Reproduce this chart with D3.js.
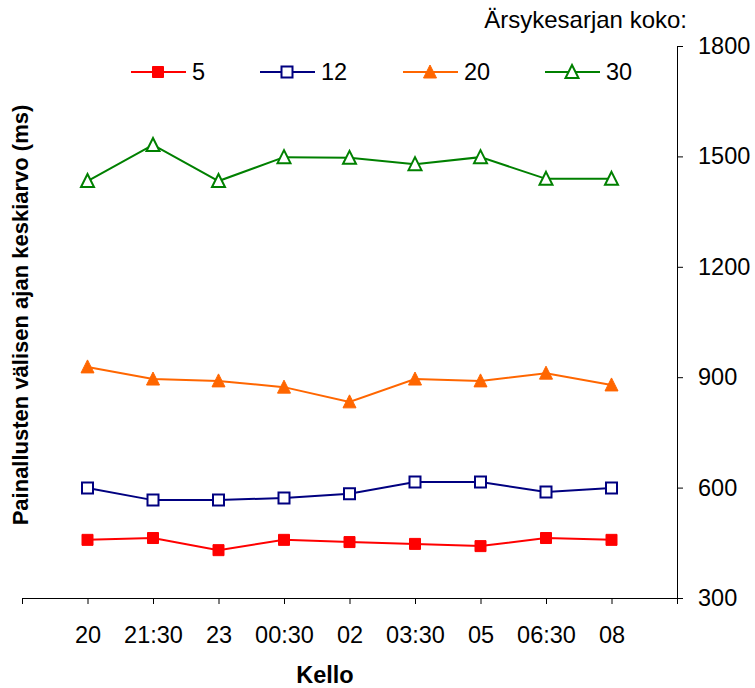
<!DOCTYPE html>
<html>
<head>
<meta charset="utf-8">
<script src="https://cdn.jsdelivr.net/npm/d3@7/dist/d3.min.js"></script>
<style>
  html, body { margin: 0; padding: 0; background: #fff; }
  svg { display: block; font-family: "Liberation Sans", Arial, sans-serif; }
</style>
</head>
<body>
<svg id="chart" width="755" height="688"></svg>
<script>
// Kellonajat (x-akseli)
const categories = ["20", "21:30", "23", "00:30", "02", "03:30", "05", "06:30", "08"];

// Ärsykesarjan koko -> keskiarvo (ms)
const seriesNames = ["5", "12", "20", "30"];
const values5  = [458, 463, 430, 458, 452, 447, 441, 463, 458];
const values12 = [599, 566, 566, 572, 583, 615, 615, 588, 599];
const values20 = [928, 895, 890, 873, 833, 895, 890, 911, 879];
const values30 = [1433, 1531, 1433, 1498, 1496, 1479, 1498, 1439, 1439];

const yTicks = [300, 600, 900, 1200, 1500, 1800];

const series = [
  { name: seriesNames[0], values: values5,  color: "#FF0000", marker: "square",   filled: true },
  { name: seriesNames[1], values: values12, color: "#000080", marker: "square",   filled: false },
  { name: seriesNames[2], values: values20, color: "#FF6600", marker: "triangle", filled: true },
  { name: seriesNames[3], values: values30, color: "#008000", marker: "triangle", filled: false }
];

const svg = d3.select("#chart");
const FONT = 23.5;

const plot = { left: 22, right: 677, top: 46, bottom: 598 };

// One empty slot before and after the categories; points sit on the ticks.
const x = d3.scaleLinear()
  .domain([0, categories.length + 1])
  .range([plot.left, plot.right]);
const y = d3.scaleLinear()
  .domain([300, 1800])
  .range([plot.bottom, plot.top]);

const px = i => x(i + 1);

// X axis
const xAxis = svg.append("g")
  .attr("transform", `translate(0,${plot.bottom})`)
  .call(d3.axisBottom(x)
    .tickValues(d3.range(0, categories.length + 2))
    .tickFormat(i => categories[i - 1] || "")
    .tickSize(6)
    .tickSizeOuter(0)
    .tickPadding(22));
xAxis.selectAll("text").attr("font-size", FONT).attr("fill", "#000")
  .attr("font-family", "Liberation Sans, Arial, sans-serif");
xAxis.selectAll("path, line").attr("stroke", "#000").attr("stroke-width", 1);

// Y axis on the right
const yAxis = svg.append("g")
  .attr("transform", `translate(${plot.right},0)`)
  .call(d3.axisRight(y)
    .tickValues(yTicks)
    .tickFormat(d3.format("d"))
    .tickSize(6)
    .tickSizeOuter(0)
    .tickPadding(15));
yAxis.selectAll("text").attr("font-size", FONT).attr("fill", "#000")
  .attr("font-family", "Liberation Sans, Arial, sans-serif");
yAxis.selectAll("path, line").attr("stroke", "#000").attr("stroke-width", 1);

// Marker drawing
function markerPath(type, cx, cy) {
  if (type === "square") {
    const h = 5.5;
    return `M${cx - h},${cy - h}H${cx + h}V${cy + h}H${cx - h}Z`;
  }
  const w = 6.5, hTop = 7, hBot = 6;
  return `M${cx},${cy - hTop}L${cx + w},${cy + hBot}L${cx - w},${cy + hBot}Z`;
}

function drawMarker(g, s, cx, cy) {
  g.append("path")
    .attr("d", markerPath(s.marker, cx, cy))
    .attr("fill", s.filled ? s.color : "#fff")
    .attr("stroke", s.color)
    .attr("stroke-width", s.filled ? 1 : 2)
    .attr("stroke-linejoin", "miter");
}

const line = d3.line()
  .x((d, i) => px(i))
  .y(d => y(d));

series.forEach(s => {
  const g = svg.append("g");
  g.append("path")
    .datum(s.values)
    .attr("d", line)
    .attr("fill", "none")
    .attr("stroke", s.color)
    .attr("stroke-width", 2);
  s.values.forEach((v, i) => drawMarker(g, s, px(i), y(v)));
});

// Legend
const legendY = 72;
const legendX = [131, 260, 403, 545];
series.forEach((s, k) => {
  const g = svg.append("g");
  const x0 = legendX[k];
  g.append("line")
    .attr("x1", x0).attr("x2", x0 + 55)
    .attr("y1", legendY).attr("y2", legendY)
    .attr("stroke", s.color).attr("stroke-width", 2);
  drawMarker(g, s, x0 + 27, legendY);
  g.append("text")
    .attr("x", x0 + 61).attr("y", legendY + 8)
    .attr("font-size", FONT)
    .text(s.name);
});

// Legend title
svg.append("text")
  .attr("x", 687).attr("y", 28)
  .attr("text-anchor", "end")
  .attr("font-size", 24)
  .text("Ärsykesarjan koko:");

// Axis titles
svg.append("text")
  .attr("x", 325).attr("y", 683)
  .attr("text-anchor", "middle")
  .attr("font-size", FONT)
  .attr("font-weight", "bold")
  .text("Kello");

svg.append("text")
  .attr("transform", "translate(28,315) rotate(-90)")
  .attr("text-anchor", "middle")
  .attr("font-size", 22)
  .attr("font-weight", "bold")
  .text("Painallusten välisen ajan keskiarvo (ms)");
</script>
</body>
</html>
